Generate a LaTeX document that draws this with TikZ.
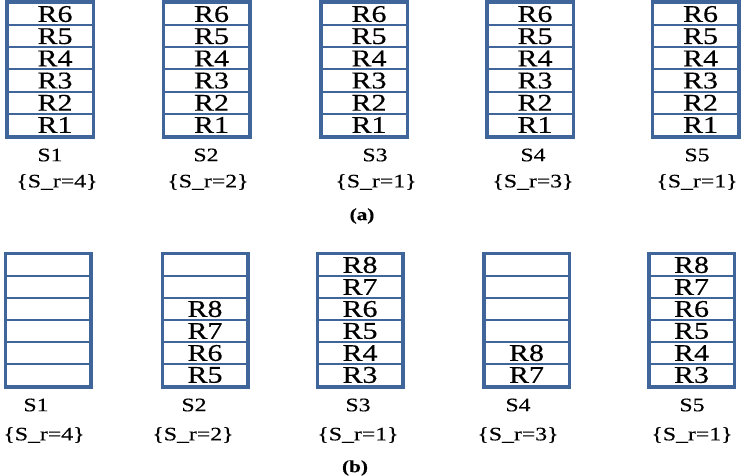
\documentclass[tikz,border=0pt]{standalone}
\usepackage{fontspec}
\setmainfont{Liberation Serif}[FakeStretch=1.25,FakeBold=0.4]
\definecolor{frame}{HTML}{3F659A}

\begin{document}
\begin{tikzpicture}[x=1pt,y=-1pt,
  cell/.style={draw=frame,line width=2pt,minimum width=85pt,minimum height=22.17pt,
    inner sep=0pt,font=\fontsize{24}{24}\selectfont},
  lab/.style={inner sep=0pt,font=\fontsize{19}{19}\selectfont},
  subcap/.style={inner sep=0pt,font=\bfseries\fontsize{17}{17}\selectfont}]
\useasboundingbox (0,0) rectangle (741,475);
% (a) every server holds the replicas R1 to R6
\foreach \i/\x/\lx/\bx/\sr in {1/50/50/57/4,2/206.5/206/208/2,3/364/375/376/1,4/530/533/533/3,5/695.5/697/697/1}{
  \foreach \k in {1,...,6}{
    \node[cell] (a\i-\k) at (\x,{136-22.17*(\k-0.5)}) {\hspace*{10pt}R\k};
  }
  \draw[frame,line width=3pt] (a\i-1.south west) rectangle (a\i-6.north east);
  \node[lab] (as\i) at (\lx,155) {S\i};
  \node[lab] (ar\i) at (\bx,182) {\{S\_r=\sr\}};
}
\node[subcap] (capa) at (362,216) {(a)};

% (b) after the move: first replica and number of filled slots per server
\foreach \i/\x/\lx/\bx/\sr/\first/\n in {1/48/36/44/4/1/0,2/205/194/193/2/5/4,3/360/358/358/1/3/6,4/526.5/518/518/3/7/2,5/691.5/692/692/1/3/6}{
  \foreach \k in {1,...,6}{
    \pgfmathtruncatemacro{\rno}{\first+\k-1}
    \node[cell,minimum width=84pt,minimum height=22pt] (b\i-\k) at (\x,{386-22*(\k-0.5)}) {\ifnum\k>\n\else R\rno\fi};
  }
  \draw[frame,line width=3pt] (b\i-1.south west) rectangle (b\i-6.north east);
  \node[lab] (bs\i) at (\lx,405) {S\i};
  \node[lab] (br\i) at (\bx,435) {\{S\_r=\sr\}};
}
\node[subcap] (capb) at (355,468) {(b)};
\end{tikzpicture}
\end{document}
